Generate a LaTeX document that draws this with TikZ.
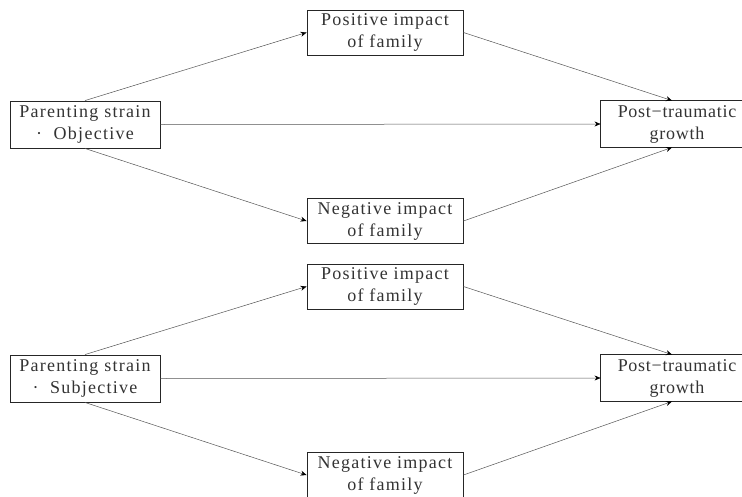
\documentclass[tikz,border=0pt]{standalone}
\usepackage{fontspec}
\setmainfont{Liberation Serif}[LetterSpace=7]
\newfontfamily\narrowser{Liberation Serif}[LetterSpace=4]
\usetikzlibrary{arrows.meta}
\definecolor{txt}{HTML}{333333}
\definecolor{ln}{HTML}{555555}
\tikzset{
  box/.style={draw=black!85, line width=0.9pt, inner sep=0pt, align=center,
    text=txt, font=\fontsize{18}{22}\selectfont},
  lbox/.style={box, minimum width=150pt, minimum height=47pt},
  mbox/.style={box, minimum width=156pt, minimum height=45pt},
  rbox/.style={box, draw=none, minimum width=152pt, minimum height=46pt,
    font=\fontsize{18}{22}\narrowser},
  rside/.style={draw=black!85, line width=0.9pt},
  conn/.style={draw=ln, line width=0.5pt, -{Stealth[length=6pt,width=5pt,color=black]}}
}
\begin{document}
\begin{tikzpicture}[x=1pt,y=-1pt]
\useasboundingbox (0,0) rectangle (742,496);
% top group
\node[lbox] (ps1) at (85,124.5) {Parenting strain\\ ·\ \ Objective};
\node[mbox] (pos1) at (385,32.5) {Positive impact\\ of family};
\node[mbox] (neg1) at (385,221) {Negative impact\\ of family};
\node[rbox] (ptg1) at (677,124) {Post−traumatic\hspace{10pt}\\ growth\hspace{10pt}};
\draw[rside] ([xshift=20pt]ptg1.north east) -- (ptg1.north west) -- (ptg1.south west) -- ([xshift=20pt]ptg1.south east);
\draw[conn] (ps1.north) -- (pos1.west);
\draw[conn] (ps1.east) -- (ptg1.west);
\draw[conn] (ps1.south) -- (neg1.west);
\draw[conn] (pos1.east) -- ([xshift=-5pt]ptg1.north);
\draw[conn] (neg1.east) -- ([xshift=-5pt]ptg1.south);
% bottom group
\node[lbox] (ps2) at (85,378.5) {Parenting strain\\ ·\ \ Subjective};
\node[mbox] (pos2) at (385,286.5) {Positive impact\\ of family};
\node[mbox] (neg2) at (385,475) {Negative impact\\ of family};
\node[rbox] (ptg2) at (677,378) {Post−traumatic\hspace{10pt}\\ growth\hspace{10pt}};
\draw[rside] ([xshift=20pt]ptg2.north east) -- (ptg2.north west) -- (ptg2.south west) -- ([xshift=20pt]ptg2.south east);
\draw[conn] (ps2.north) -- (pos2.west);
\draw[conn] (ps2.east) -- (ptg2.west);
\draw[conn] (ps2.south) -- (neg2.west);
\draw[conn] (pos2.east) -- ([xshift=-5pt]ptg2.north);
\draw[conn] (neg2.east) -- ([xshift=-5pt]ptg2.south);
\end{tikzpicture}
\end{document}
